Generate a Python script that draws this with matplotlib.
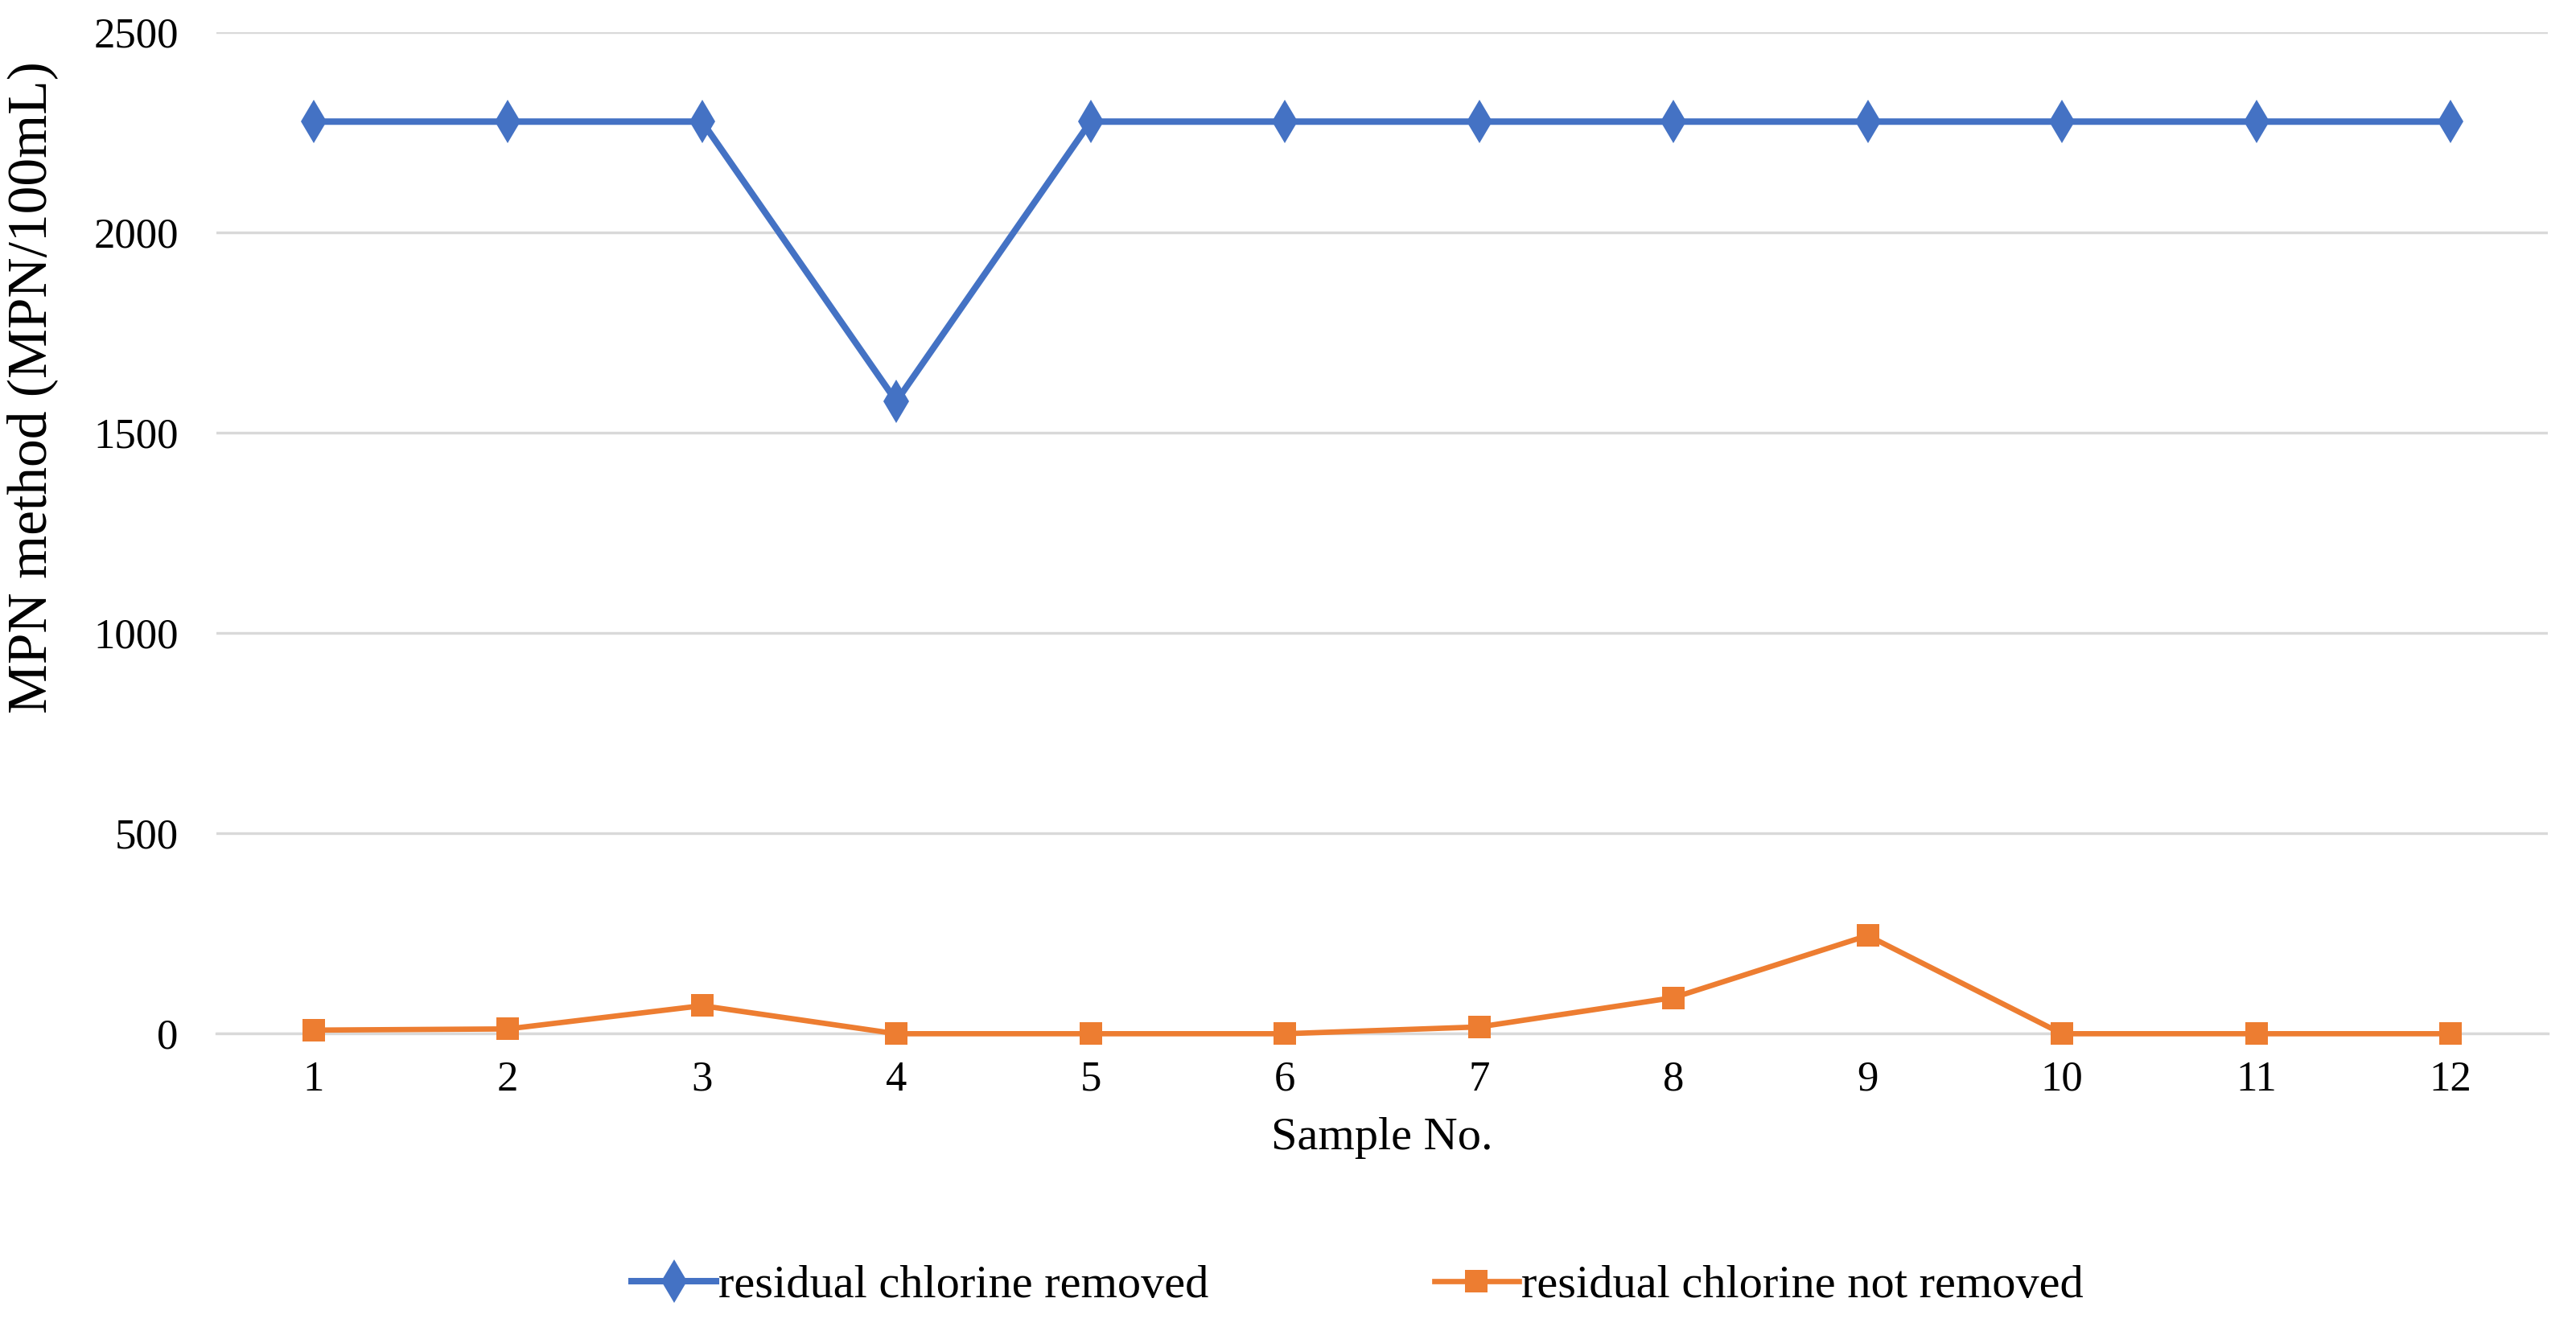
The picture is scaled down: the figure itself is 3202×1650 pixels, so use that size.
import matplotlib
matplotlib.use('Agg')
import matplotlib.pyplot as plt

# dane
samples = list(range(1, 13))
removed = [2276, 2276, 2276, 1578, 2276, 2276, 2276, 2276, 2276, 2276, 2276, 2276]
not_removed = [9, 12, 70, 0, 0, 0, 17, 90, 245, 0, 0, 0]
yticks = [0, 500, 1000, 1500, 2000, 2500]

plt.rcParams['font.family'] = ['Liberation Serif', 'DejaVu Serif']

fig = plt.figure(figsize=(16.01, 8.25), dpi=200)
ax = fig.add_axes([0.084, 0.221, 0.905, 0.755])

ax.plot(samples, removed, color='#4472c4', lw=2.9, marker='d',
        markersize=14, markeredgewidth=0, label='residual chlorine removed',
        clip_on=False, zorder=4)
ax.plot(samples, not_removed, color='#ed7d31', lw=2.4, marker='s',
        markersize=10, markeredgewidth=0, label='residual chlorine not removed',
        clip_on=False, zorder=4)

ax.set_xlim(0.5, 12.5)
ax.set_ylim(0, 2500)
ax.set_xticks(samples)
ax.set_yticks(yticks)
ax.tick_params(axis='both', length=0, labelsize=19, colors='#000000')
ax.tick_params(axis='x', pad=12)
ax.tick_params(axis='y', pad=17)
ax.grid(axis='y', color='#d9d9d9', lw=1.2)
ax.set_axisbelow(True)
for s in ['top', 'right', 'left']:
    ax.spines[s].set_visible(False)
ax.spines['bottom'].set_color('#d9d9d9')
ax.spines['bottom'].set_linewidth(1.2)

ax.set_xlabel('Sample No.', fontsize=21, labelpad=8)
ax.set_ylabel('MPN method (MPN/100mL)', fontsize=25)
ax.yaxis.set_label_coords(-0.068, 0.645)

fig.legend(loc='center', bbox_to_anchor=(0.527, 0.031), ncol=2, frameon=False,
           fontsize=21, columnspacing=4.8, handlelength=1.8, handletextpad=0.05)

fig.savefig('out.png', dpi=200)
